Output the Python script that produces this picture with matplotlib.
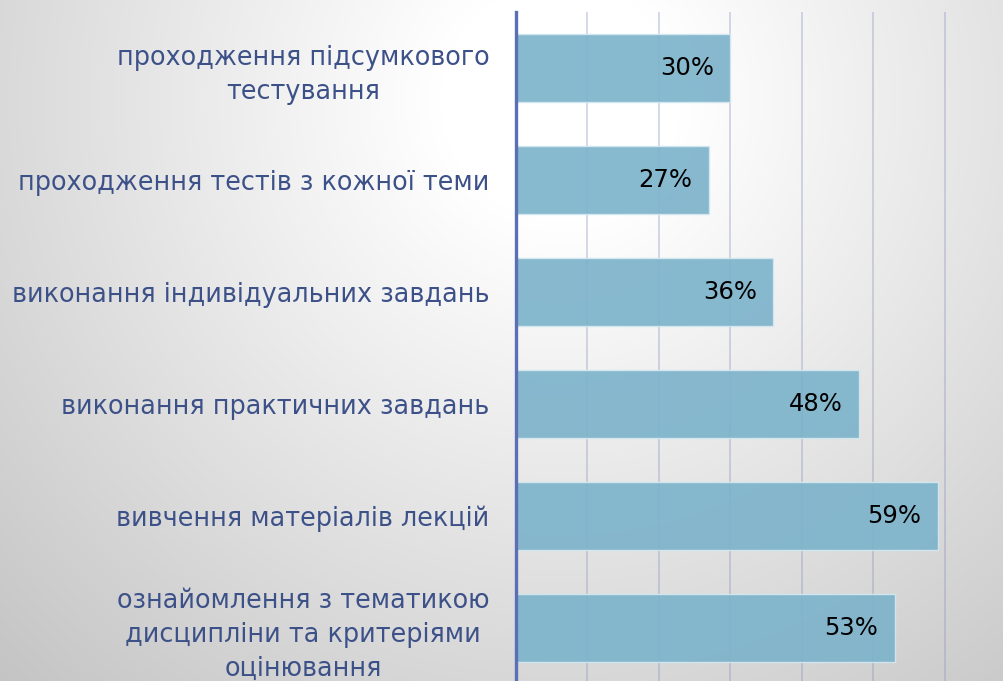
import numpy as np
import matplotlib.pyplot as plt

# survey data
categories = [
    'проходження підсумкового\nтестування',
    'проходження тестів з кожної теми',
    'виконання індивідуальних завдань',
    'виконання практичних завдань',
    'вивчення матеріалів лекцій',
    'ознайомлення з тематикою\nдисципліни та критеріями\nоцінювання',
]
values = [30, 27, 36, 48, 59, 53]
value_labels = ['30%', '27%', '36%', '48%', '59%', '53%']

plt.rcParams['font.family'] = ['DejaVu Sans']

fig = plt.figure(figsize=(10.04, 6.81), dpi=100)

# soft radial grey background
bg = fig.add_axes([0, 0, 1, 1], zorder=-10)
yy, xx = np.mgrid[0:681, 0:1004]
d = np.sqrt((xx - 560) ** 2 + (yy - 100) ** 2)
v = 255 - 60 * np.clip((d - 120) / 700, 0, 1)
img = np.dstack([v, v, v]) / 255.0
bg.imshow(img, aspect='auto', extent=[0, 1, 0, 1], origin='upper')
bg.axis('off')

ax = fig.add_axes([516 / 1004, -3 / 681, 1 - 516 / 1004, 672 / 681])
ax.set_facecolor('none')

y = np.arange(len(categories))
ax.barh(y, values, height=0.6, color='#7db3cb', alpha=0.92,
        edgecolor='#d4e8f0', linewidth=1.0, zorder=3)

for yi, val, lab in zip(y, values, value_labels):
    ax.text(val - 2.3, yi, lab, ha='right', va='center', fontsize=17.5,
            color='black', zorder=4)

ax.set_xlim(0, 68.3)
ax.set_ylim(len(categories) - 0.5, -0.5)
ax.set_xticks([10, 20, 30, 40, 50, 60])
ax.xaxis.grid(True, color='#8890bc', alpha=0.4, linewidth=1.2, zorder=0)
ax.tick_params(axis='x', bottom=False, labelbottom=False)

ax.set_yticks(y)
ax.set_yticklabels(categories, fontsize=18.4, color='#3d5189')
ax.tick_params(axis='y', length=0, pad=19)
for t in ax.get_yticklabels():
    t.set_multialignment('center')
    t.set_linespacing(1.4)

for s in ['top', 'right', 'bottom']:
    ax.spines[s].set_visible(False)
ax.spines['left'].set_color('#5a6fb6')
ax.spines['left'].set_linewidth(2.4)
ax.spines['left'].set_zorder(5)

fig.savefig('out.png', dpi=100)
